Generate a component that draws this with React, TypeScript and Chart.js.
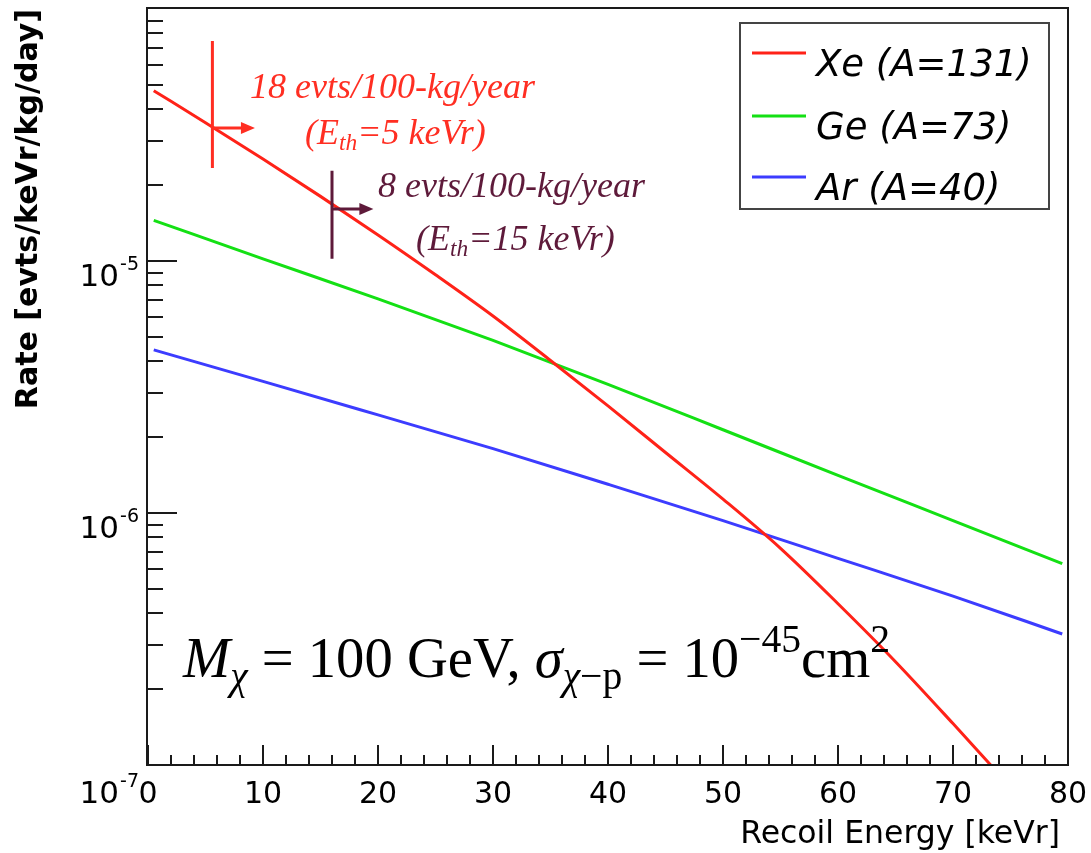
import React, { useEffect, useRef } from 'react';
import { Chart, registerables } from 'chart.js';

Chart.register(...registerables);

// ---------------- data ----------------
const seriesLabels = ['Xe (A=131)', 'Ge (A=73)', 'Ar (A=40)'];
const seriesColors = ['#ff2218', '#14e014', '#3c3cff'];

const xeEnergy = [0.5, 5, 10, 15, 20, 25, 30, 35, 40, 45, 50, 55, 60, 65, 70, 75];
const xeRate = [4.74e-5, 3.54e-5, 2.54e-5, 1.805e-5, 1.269e-5, 8.82e-6, 6.05e-6, 4.03e-6, 2.66e-6, 1.738e-6, 1.135e-6, 7.24e-7, 4.365e-7, 2.57e-7, 1.46e-7, 8.19e-8];

const geEnergy = [0.5, 10, 20, 30, 40, 50, 60, 70, 79.5];
const geRate = [1.45e-5, 1.02e-5, 7.08e-6, 4.84e-6, 3.24e-6, 2.14e-6, 1.41e-6, 9.33e-7, 6.3e-7];

const arEnergy = [0.5, 10, 20, 30, 40, 50, 60, 70, 79.5];
const arRate = [4.44e-6, 3.33e-6, 2.45e-6, 1.8e-6, 1.3e-6, 9.33e-7, 6.61e-7, 4.68e-7, 3.31e-7];

// threshold markers
const thresholdE = [5.6, 16.0];
const thresholdTop = [7.46e-5, 2.28e-5];
const thresholdBottom = [2.34e-5, 1.02e-5];
const thresholdArrowRate = [3.37e-5, 1.61e-5];
const thresholdArrowEnd = [9.3, 19.6];
const thresholdColors = ['#ff2e22', '#5e1a3a'];
const eventTexts = ['18 evts/100-kg/year', '8 evts/100-kg/year'];
const thresholdValues = ['5', '15'];

// axis ticks / titles
const xTickValues = [0, 10, 20, 30, 40, 50, 60, 70, 80];
const yLabelExponents = [-7, -6, -5];
const xTitle = 'Recoil Energy [keVr]';
const yTitle = 'Rate [evts/keVr/kg/day]';

const SANS = "'DejaVu Sans', sans-serif";
const SERIF = "'Liberation Serif', serif";

type Run = { t: string; italic?: boolean; scale?: number; dy?: number };

function measureRuns(ctx: CanvasRenderingContext2D, runs: Run[], size: number, family: string) {
  let w = 0;
  for (const r of runs) {
    const s = size * (r.scale ?? 1);
    ctx.font = `${r.italic ? 'italic ' : ''}${s}px ${family}`;
    w += ctx.measureText(r.t).width;
  }
  return w;
}

function drawRuns(ctx: CanvasRenderingContext2D, runs: Run[], x: number, baseline: number, size: number, family: string, color: string) {
  let cx = x;
  ctx.fillStyle = color;
  ctx.textAlign = 'left';
  ctx.textBaseline = 'alphabetic';
  for (const r of runs) {
    const s = size * (r.scale ?? 1);
    ctx.font = `${r.italic ? 'italic ' : ''}${s}px ${family}`;
    ctx.fillText(r.t, cx, baseline + (r.dy ?? 0) * size);
    cx += ctx.measureText(r.t).width;
  }
}

const rootPlugin = {
  id: 'rootStyle',
  afterDatasetsDraw(chart: any) {
    const { ctx, chartArea: a, scales } = chart;
    const xs = scales.x;
    const ys = scales.y;
    ctx.save();

    // threshold markers
    for (let i = 0; i < thresholdE.length; i++) {
      const c = thresholdColors[i];
      const x = xs.getPixelForValue(thresholdE[i]);
      const yt = ys.getPixelForValue(thresholdTop[i]);
      const yb = ys.getPixelForValue(thresholdBottom[i]);
      const ya = ys.getPixelForValue(thresholdArrowRate[i]);
      const xe = xs.getPixelForValue(thresholdArrowEnd[i]);
      ctx.strokeStyle = c;
      ctx.fillStyle = c;
      ctx.lineWidth = 3;
      ctx.beginPath();
      ctx.moveTo(x, yt);
      ctx.lineTo(x, yb);
      ctx.moveTo(x, ya);
      ctx.lineTo(xe - 8, ya);
      ctx.stroke();
      ctx.beginPath();
      ctx.moveTo(xe, ya);
      ctx.lineTo(xe - 14, ya - 6);
      ctx.lineTo(xe - 14, ya + 6);
      ctx.closePath();
      ctx.fill();
    }

    // annotation texts
    const annoSize = 36;
    const textPos = [
      { x1: 250, b1: 98, x2: 305, b2: 144 },
      { x1: 378, b1: 197, x2: 416, b2: 250 },
    ];
    for (let i = 0; i < eventTexts.length; i++) {
      const p = textPos[i];
      drawRuns(ctx, [{ t: eventTexts[i], italic: true }], p.x1, p.b1, annoSize, SERIF, thresholdColors[i]);
      drawRuns(
        ctx,
        [
          { t: '(E', italic: true },
          { t: 'th', italic: true, scale: 0.65, dy: 0.18 },
          { t: `=${thresholdValues[i]} keVr)`, italic: true },
        ],
        p.x2,
        p.b2,
        annoSize,
        SERIF,
        thresholdColors[i]
      );
    }

    // formula
    const formula: Run[] = [
      { t: 'M', italic: true },
      { t: 'χ', italic: true, scale: 0.7, dy: 0.22 },
      { t: ' = ' },
      { t: '100 GeV, ' },
      { t: 'σ', italic: true },
      { t: 'χ', italic: true, scale: 0.7, dy: 0.22 },
      { t: '−p', scale: 0.7, dy: 0.22 },
      { t: ' = ' },
      { t: '10' },
      { t: '−45', scale: 0.7, dy: -0.45 },
      { t: 'cm' },
      { t: '2', scale: 0.7, dy: -0.45 },
    ];
    const w0 = measureRuns(ctx, formula, 48, SERIF);
    const fSize = (48 * 707) / w0;
    drawRuns(ctx, formula, 183, 677, fSize, SERIF, '#000');

    // frame
    ctx.strokeStyle = '#1a1a1a';
    ctx.lineWidth = 2;
    ctx.strokeRect(a.left - 1, a.top - 1, a.right - a.left + 1, a.bottom - a.top + 1);

    // x ticks (inside)
    ctx.lineWidth = 2;
    ctx.beginPath();
    for (let v = 0; v <= 80; v += 2) {
      const x = Math.round(xs.getPixelForValue(v));
      const len = v % 10 === 0 ? 20 : 10;
      ctx.moveTo(x, a.bottom);
      ctx.lineTo(x, a.bottom - len);
    }
    // y ticks (inside)
    for (let e = -7; e <= -5; e++) {
      for (let m = 1; m <= 9; m++) {
        const v = m * Math.pow(10, e);
        const y = Math.round(ys.getPixelForValue(v));
        const len = m === 1 ? 29 : 15;
        ctx.moveTo(a.left, y);
        ctx.lineTo(a.left + len, y);
      }
    }
    ctx.stroke();

    // y labels 10^n
    ctx.fillStyle = '#000';
    ctx.textBaseline = 'alphabetic';
    for (const e of yLabelExponents) {
      const y = ys.getPixelForValue(Math.pow(10, e));
      const base = y + (e === -7 ? 38 : 25);
      ctx.font = `19px ${SANS}`;
      ctx.textAlign = 'right';
      const sup = `-${-e}`;
      const supW = ctx.measureText(sup).width;
      ctx.fillText(sup, 139, base - 16);
      ctx.font = `31px ${SANS}`;
      ctx.fillText('10', 139 - supW - 1, base);
    }

    // x axis title
    ctx.font = `31.5px ${SANS}`;
    ctx.textAlign = 'right';
    ctx.fillStyle = '#000';
    ctx.fillText(xTitle, a.right - 8, 843);

    // legend
    const lx = 740, ly = 23, lw = 309, lh = 186;
    ctx.fillStyle = '#fff';
    ctx.fillRect(lx, ly, lw, lh);
    ctx.strokeStyle = '#444';
    ctx.lineWidth = 2;
    ctx.strokeRect(lx, ly, lw, lh);
    const rowY = [53, 116, 177];
    chart.data.datasets.forEach((ds: any, i: number) => {
      const y = rowY[i];
      ctx.strokeStyle = ds.borderColor;
      ctx.lineWidth = 3;
      ctx.beginPath();
      ctx.moveTo(752, y);
      ctx.lineTo(806, y);
      ctx.stroke();
      ctx.fillStyle = '#000';
      ctx.font = `italic 37px ${SANS}`;
      ctx.textAlign = 'left';
      ctx.fillText(ds.label, 816, y + 23);
    });

    ctx.restore();
  },
};

export default function App() {
  const ref = useRef<HTMLCanvasElement | null>(null);

  useEffect(() => {
    if (!ref.current) return;
    const mk = (xsA: number[], ysA: number[]) => xsA.map((x, i) => ({ x, y: ysA[i] }));
    const energies = [xeEnergy, geEnergy, arEnergy];
    const rates = [xeRate, geRate, arRate];
    const chart = new Chart(ref.current, {
      type: 'line',
      data: {
        datasets: seriesLabels.map((label, i) => ({
          label,
          data: mk(energies[i], rates[i]),
          borderColor: seriesColors[i],
          backgroundColor: seriesColors[i],
          borderWidth: 3,
          pointRadius: 0,
          fill: false,
          cubicInterpolationMode: 'monotone' as const,
          clip: 0,
        })),
      },
      options: {
        animation: false,
        responsive: true,
        maintainAspectRatio: false,
        layout: { padding: { top: 9, right: 23, left: 0, bottom: 0 } },
        plugins: {
          legend: { display: false },
          tooltip: { enabled: false },
        },
        scales: {
          x: {
            type: 'linear',
            min: 0,
            max: 80,
            grid: { display: false, drawTicks: false },
            border: { display: false },
            afterBuildTicks: (s: any) => {
              s.ticks = xTickValues.map((v) => ({ value: v }));
            },
            ticks: {
              autoSkip: false,
              maxRotation: 0,
              padding: 12,
              color: '#000',
              font: { family: SANS, size: 30 },
              callback: (v: any) => String(v),
            },
            title: { display: false, text: xTitle },
            afterFit: (s: any) => {
              s.height = 88;
              s.paddingLeft = 0;
              s.paddingRight = 0;
            },
          },
          y: {
            type: 'logarithmic',
            min: 1e-7,
            max: 1e-4,
            grid: { display: false, drawTicks: false },
            border: { display: false },
            ticks: { display: false },
            title: {
              display: true,
              text: yTitle,
              align: 'end',
              color: '#000',
              font: { family: SANS, size: 30, weight: 'bold' },
              padding: { top: 11, bottom: 0 },
            },
            afterFit: (s: any) => {
              s.width = 148;
              s.paddingTop = 0;
              s.paddingBottom = 0;
            },
          },
        },
      } as any,
      plugins: [rootPlugin],
    });
    return () => chart.destroy();
  }, []);

  return (
    <div style={{ position: 'fixed', left: 0, top: 0, width: 1091, height: 853, background: '#fff' }}>
      <canvas ref={ref} />
    </div>
  );
}
